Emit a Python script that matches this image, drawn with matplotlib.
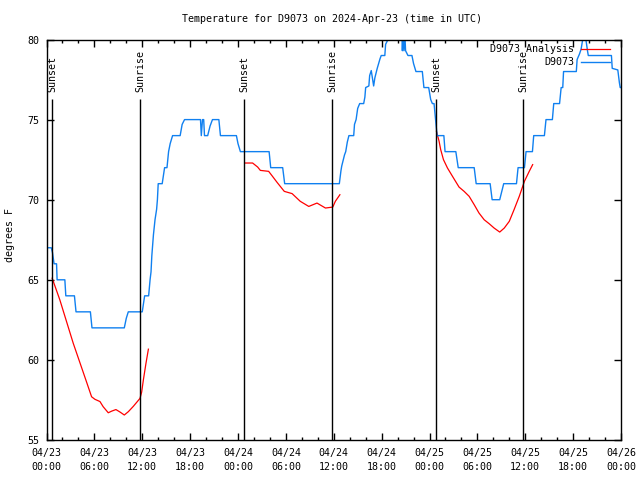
import matplotlib
matplotlib.use('Agg')
import matplotlib.pyplot as plt
import matplotlib.dates as mdates
import pandas as pd

plt.rcParams['font.family'] = ['DejaVu Sans Mono']
plt.rcParams['font.size'] = 7.2

start = pd.Timestamp('2024-04-23 00:00')

# observed temperature (hours after start, deg F)
obs_hours = [0.0, 0.6, 0.75, 0.95, 1.26, 1.33, 2.3, 2.42, 3.5, 3.7, 5.5, 5.7, 9.75, 10.0,
             10.25, 12.0, 12.3, 12.8, 12.98, 13.1, 13.2, 13.4, 13.6, 13.8, 13.9, 14.0,
             14.5, 14.8, 15.1, 15.3, 15.5, 15.8, 16.75, 17.0, 17.3, 19.3, 19.4, 19.55,
             19.7, 19.8, 19.9, 20.2, 20.5, 20.8, 21.6, 21.8, 23.8, 24.0, 24.3, 27.9,
             28.1, 29.6, 29.85, 36.7, 36.9, 37.0, 37.35, 37.5, 37.7, 37.9, 38.0, 38.5,
             38.6, 38.8, 39.0, 39.25, 39.75, 39.9, 40.0, 40.4, 40.5, 40.7, 40.85, 41.0,
             41.15, 41.45, 41.8, 41.95, 42.4, 42.5, 42.8, 42.9, 44.5, 44.6, 44.7, 44.8,
             44.9, 45.0, 45.3, 45.8, 46.0, 46.3, 47.1, 47.3, 47.9, 48.15, 48.36, 48.57,
             48.7, 48.8, 48.95, 49.8, 49.95, 51.3, 51.6, 53.6, 53.85, 55.6, 55.85, 56.8,
             57.05, 57.3, 58.9, 59.1, 59.9, 60.1, 60.9, 61.06, 62.4, 62.6, 63.4, 63.57,
             64.3, 64.5, 64.7, 64.8, 66.4, 66.5, 66.8, 67.0, 67.2, 67.6, 67.8, 67.9,
             70.8, 70.9, 71.6, 71.8, 71.9, 72.0]
obs_temps = [67, 67, 66.7, 66, 66, 65, 65, 64, 64, 63, 63, 62, 62, 62.6,
             63, 63, 64, 64, 65, 65.5, 66.5, 67.8, 68.75, 69.4, 70, 71,
             71, 72, 72, 73, 73.5, 74, 74, 74.7, 75, 75, 74, 75,
             75, 74, 74, 74, 74.6, 75, 75, 74, 74, 73.5, 73, 73,
             72, 72, 71, 71, 71.8, 72.1, 72.8, 73, 73.6, 74, 74, 74,
             74.7, 75, 75.7, 76, 76, 76.4, 77, 77.1, 77.75, 78.06, 77.6, 77.1,
             77.6, 78.2, 78.8, 79, 79, 79.7, 80, 81, 81, 79.3, 80.5, 79.3,
             80.5, 79.3, 79, 79, 78.5, 78, 78, 77, 77, 76.25, 76, 76,
             75.3, 74.8, 74, 74, 73, 73, 72, 72, 71, 71, 70, 70,
             70.5, 71, 71, 72, 72, 73, 73, 74, 74, 75, 75, 76,
             76, 77, 77, 78, 78, 78.75, 79.1, 79.4, 80, 80, 79.3, 79,
             79, 78.2, 78.1, 77.3, 77, 77]

# analysis runs, one per night
ana1_hours = [0.71, 1.67, 3.35, 5.0, 5.65, 6.07, 6.7, 7.1, 7.74, 8.16, 8.7, 9.2, 9.75,
              10.26, 10.88, 11.72, 11.93, 12.14, 12.47, 12.77]
ana1_temps = [65.1, 63.75, 61.04, 58.65, 57.7, 57.54, 57.4, 57.08, 56.7, 56.8, 56.9, 56.75,
              56.56, 56.77, 57.1, 57.6, 58.0, 58.75, 59.8, 60.67]
ana2_hours = [24.83, 25.83, 26.46, 26.8, 27.84, 28.26, 28.9, 29.8, 30.78, 31.8, 32.87,
              33.9, 34.96, 35.88, 36.2, 36.77]
ana2_temps = [72.29, 72.29, 72.04, 71.83, 71.77, 71.5, 71.08, 70.52, 70.38, 69.9, 69.58,
              69.79, 69.48, 69.54, 69.9, 70.31]
ana3_hours = [48.87, 49.2, 49.4, 49.75, 50.25, 50.88, 51.7, 52.34, 52.97, 53.6, 54.2,
              54.85, 55.48, 56.1, 56.8, 57.37, 58.0, 58.6, 59.25, 59.9, 60.5, 60.93]
ana3_temps = [74.27, 73.65, 73.13, 72.5, 71.98, 71.46, 70.79, 70.52, 70.21, 69.69, 69.17,
              68.75, 68.5, 68.23, 67.98, 68.23, 68.65, 69.38, 70.21, 71.15, 71.77, 72.19]

sunset_hours = [0.73, 24.79, 48.85]
sunrise_hours = [11.76, 35.82, 59.76]


def to_time(hours):
    return start + pd.to_timedelta(hours, unit='h')


fig = plt.figure(figsize=(6.4, 4.8), dpi=100)
ax = fig.add_axes([46.5 / 640, 40 / 480, 574.5 / 640, 400.5 / 480])

red = '#ff0000'
blue = '#1080f0'
ax.plot(to_time(ana1_hours), ana1_temps, color=red, lw=0.9, label='D9073 Analysis')
ax.plot(to_time(ana2_hours), ana2_temps, color=red, lw=0.9)
ax.plot(to_time(ana3_hours), ana3_temps, color=red, lw=0.9)
ax.plot(to_time(obs_hours), obs_temps, color=blue, lw=1.0, label='D9073')

for hrs, name in [(sunset_hours, 'Sunset'), (sunrise_hours, 'Sunrise')]:
    ax.vlines(to_time(hrs), 55, 76.3, color='black', lw=1.0)
    for t in to_time(hrs):
        ax.text(t, 76.75, name, rotation=90, ha='center', va='bottom')

ax.set_xlim(start, start + pd.Timedelta(hours=72))
ax.set_ylim(55, 80)
ax.set_yticks([55, 60, 65, 70, 75, 80])
ax.xaxis.set_major_locator(mdates.HourLocator(byhour=range(0, 24, 6)))
ax.xaxis.set_minor_locator(mdates.HourLocator(interval=2))
ax.xaxis.set_major_formatter(mdates.DateFormatter('%m/%d\n%H:%M'))
ax.tick_params(which='both', direction='in', top=True, right=True, width=1.0)
ax.tick_params(which='major', length=5)
ax.tick_params(which='minor', length=2.5)
ax.tick_params(axis='x', pad=6)
ax.tick_params(axis='y', pad=5)
for lbl in ax.get_xticklabels():
    lbl.set_linespacing(1.5)
for s in ax.spines.values():
    s.set_linewidth(1.0)

ax.set_ylabel('degrees F')
ax.yaxis.set_label_coords(-31 / 574.5, 0.512)

fig.text(332 / 640, 1 - 19 / 480, 'Temperature for D9073 on 2024-Apr-23 (time in UTC)',
         ha='center', va='center')

ax.legend(loc='upper right', frameon=False, markerfirst=False, handlelength=2.93,
          handletextpad=0.67, borderaxespad=0.7, labelspacing=0.3,
          bbox_to_anchor=(1.0, 1.015))

fig.savefig('out.png', dpi=100)
